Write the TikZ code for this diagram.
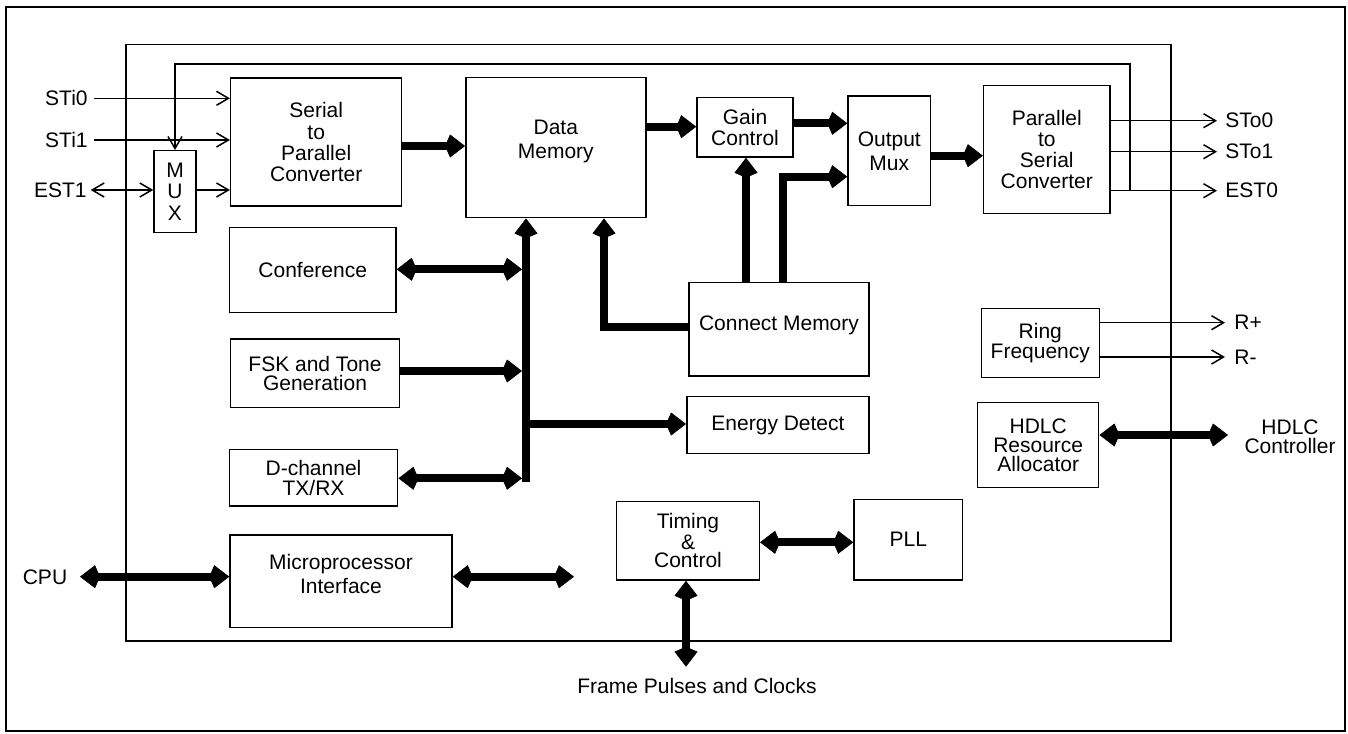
\documentclass[tikz,border=0pt]{standalone}
\usepackage{fontspec}
\setmainfont{Liberation Sans}
\usetikzlibrary{arrows.meta}
\begin{document}
\begin{tikzpicture}[x=0.5pt,y=-0.5pt,
  txt/.style={font=\fontsize{10.5}{10.6}\selectfont, inner sep=0pt, align=center},
  box/.style={draw, line width=0.75pt, txt},
  kt/.tip={Kite[length=10pt,width=11.5pt,inset=2.5pt,line width=0.3pt]},
  bt/.tip={Straight Barb[length=6pt,width=7pt]},
  thk/.style={line width=4pt, -kt},
  thkk/.style={line width=4pt, kt-kt},
  thn/.style={line width=0.75pt, -bt},
  thnn/.style={line width=0.75pt, bt-bt},
  frame/.style={draw, line width=0.75pt}
]
\useasboundingbox (0,0) rectangle (1348,733);
\draw[line width=1.25pt] (6,7) rectangle (1345,731);
\draw[frame] (126,44.7) rectangle (1171,641);

% boxes
\node[box, minimum width=85.5pt, minimum height=64pt] (s2p) at (316.2,142.2) {Serial\\to\\Parallel\\Converter};
\node[box, minimum width=21pt, minimum height=41pt] (mux) at (175,191.7) {M\\U\\X};
\node[box, minimum width=90pt, minimum height=70pt] (dm) at (555.8,147.7) {};
\node[txt, font=\fontsize{10.5}{12}\selectfont] (dmt) at (555.8,141) {Data\\Memory};
\node[box, minimum width=48pt, minimum height=29.7pt] (gain) at (745,127.3) {Gain\\Control};
\node[box, minimum width=41.3pt, minimum height=54.8pt, font=\fontsize{10.5}{12}\selectfont] (omux) at (889.3,150.8) {Output\\Mux};
\node[box, minimum width=63.2pt, minimum height=64pt] (p2s) at (1046.8,149.5) {Parallel\\to\\Serial\\Converter};
\node[box, minimum width=83.3pt, minimum height=42.7pt] (conf) at (312.7,270) {Conference};
\node[box, minimum width=84.3pt, minimum height=34.3pt, font=\fontsize{10.5}{9.4}\selectfont] (fsk) at (315,373.3) {FSK and Tone\\Generation};
\node[box, minimum width=84.2pt, minimum height=28.3pt, font=\fontsize{10.5}{10}\selectfont] (dch) at (313.5,477.7) {D-channel\\TX/RX};
\node[box, minimum width=111pt, minimum height=46.3pt] (mpi) at (341,581.3) {};
\node[txt, font=\fontsize{10.5}{12.2}\selectfont] (mpit) at (341,574) {Microprocessor\\Interface};
\node[box, minimum width=90.2pt, minimum height=46.7pt] (cm) at (779,329.3) {};
\node[txt] (cmt) at (779,325) {Connect Memory};
\node[box, minimum width=91.2pt, minimum height=28.3pt] (ed) at (778,425) {Energy Detect};
\node[box, minimum width=71.3pt, minimum height=39.2pt, font=\fontsize{10.5}{9.2}\selectfont] (tc) at (688,540.8) {Timing\\\&\\Control};
\node[box, minimum width=54.3pt, minimum height=40.3pt] (pll) at (908.3,539.7) {PLL};
\node[box, minimum width=59pt, minimum height=34.7pt, font=\fontsize{10.5}{9.2}\selectfont] (ring) at (1040.3,343) {Ring\\Frequency};
\node[box, minimum width=60.5pt, minimum height=42.3pt, font=\fontsize{10.5}{9.5}\selectfont] (hdlc) at (1038.2,445) {HDLC\\Resource\\Allocator};

% external labels
\node[txt, anchor=east] (lsti0) at (88,98.3) {STi0};
\node[txt, anchor=east] (lsti1) at (88,140) {STi1};
\node[txt, anchor=east] (lest1) at (87,190) {EST1};
\node[txt, anchor=west] (lsto0) at (1225,120.7) {STo0};
\node[txt, anchor=west] (lsto1) at (1225,151.7) {STo1};
\node[txt, anchor=west] (lest0) at (1225,190.7) {EST0};
\node[txt, anchor=west] (lrp) at (1234,322.7) {R+};
\node[txt, anchor=west] (lrm) at (1234,357) {R-};
\node[txt, font=\fontsize{10.5}{9.5}\selectfont] (lhc) at (1290,437) {HDLC\\Controller};
\node[txt] (lcpu) at (45,577) {CPU};
\node[txt] (lfp) at (697,686) {Frame Pulses and Clocks};

% coordinates for free ends
\coordinate (sti0) at (94,98.3);
\coordinate (sti1) at (94,140);
\coordinate (est1) at (90.7,190);
\coordinate (sto0) at (1217,120.7);
\coordinate (sto1) at (1217,151.7);
\coordinate (est0) at (1217,190.7);
\coordinate (fbv) at (1130,190.7);
\coordinate (fbt) at (1130,64);
\coordinate (rp) at (1225,322.7);
\coordinate (rm) at (1225,357);
\coordinate (hc) at (1228,435);
\coordinate (cpu) at (80,576.7);
\coordinate (mpo) at (574,576.7);
\coordinate (fp) at (686,666.7);
\coordinate (busb) at (526,482);

% thin connectors
\draw[thn] (sti0) -- (sti0 -| s2p.west);
\draw[thn] (sti1) -- (sti1 -| s2p.west);
\draw[thnn] (est1) -- (est1 -| mux.west);
\draw[thn] (mux.east |- est1) -- (s2p.west |- est1);
\draw[thn] (p2s.east |- sto0) -- (sto0);
\draw[thn] (p2s.east |- sto1) -- (sto1);
\draw[thn] (p2s.east |- est0) -- (est0);
\draw[thn] (fbv) -- (fbt) -| (mux.north);
\draw[thn] (ring.east |- rp) -- (rp);
\draw[thn] (ring.east |- rm) -- (rm);

% thick connectors
\draw[thk] (s2p.east |- 0,146) -- (dm.west |- 0,146);
\draw[thk] (dm.east |- 0,126.7) -- (gain.west |- 0,126.7);
\draw[thk] (gain.east |- 0,123.3) -- (omux.west |- 0,123.3);
\draw[thk] (omux.east |- 0,155.7) -- (p2s.west |- 0,155.7);
\draw[thk] (cm.north -| 746,0) -- (gain.south -| 746,0);
\draw[thk] (cm.north -| 782.7,0) |- (omux.west |- 0,176.7);
\draw[thk] (cm.west |- 0,327) -| (dm.south -| 604,0);
\draw[thk] (busb) -- (dm.south -| busb);
\draw[thkk] (conf.east |- 0,269.3) -- ([xshift=-2pt]busb |- 0,269.3);
\draw[thk] (fsk.east |- 0,371) -- ([xshift=-2pt]busb |- 0,371);
\draw[thkk] (dch.east |- 0,478.3) -- ([xshift=-2pt]busb |- 0,478.3);
\draw[thk] (busb |- 0,424) -- (ed.west |- 0,424);
\draw[thkk] (cpu) -- (mpi.west |- cpu);
\draw[thkk] (mpi.east |- mpo) -- (mpo);
\draw[thkk] (tc.east |- 0,542.3) -- (pll.west |- 0,542.3);
\draw[thkk] (tc.south -| fp) -- (fp);
\draw[thkk] (hdlc.east |- hc) -- (hc);
\end{tikzpicture}
\end{document}
